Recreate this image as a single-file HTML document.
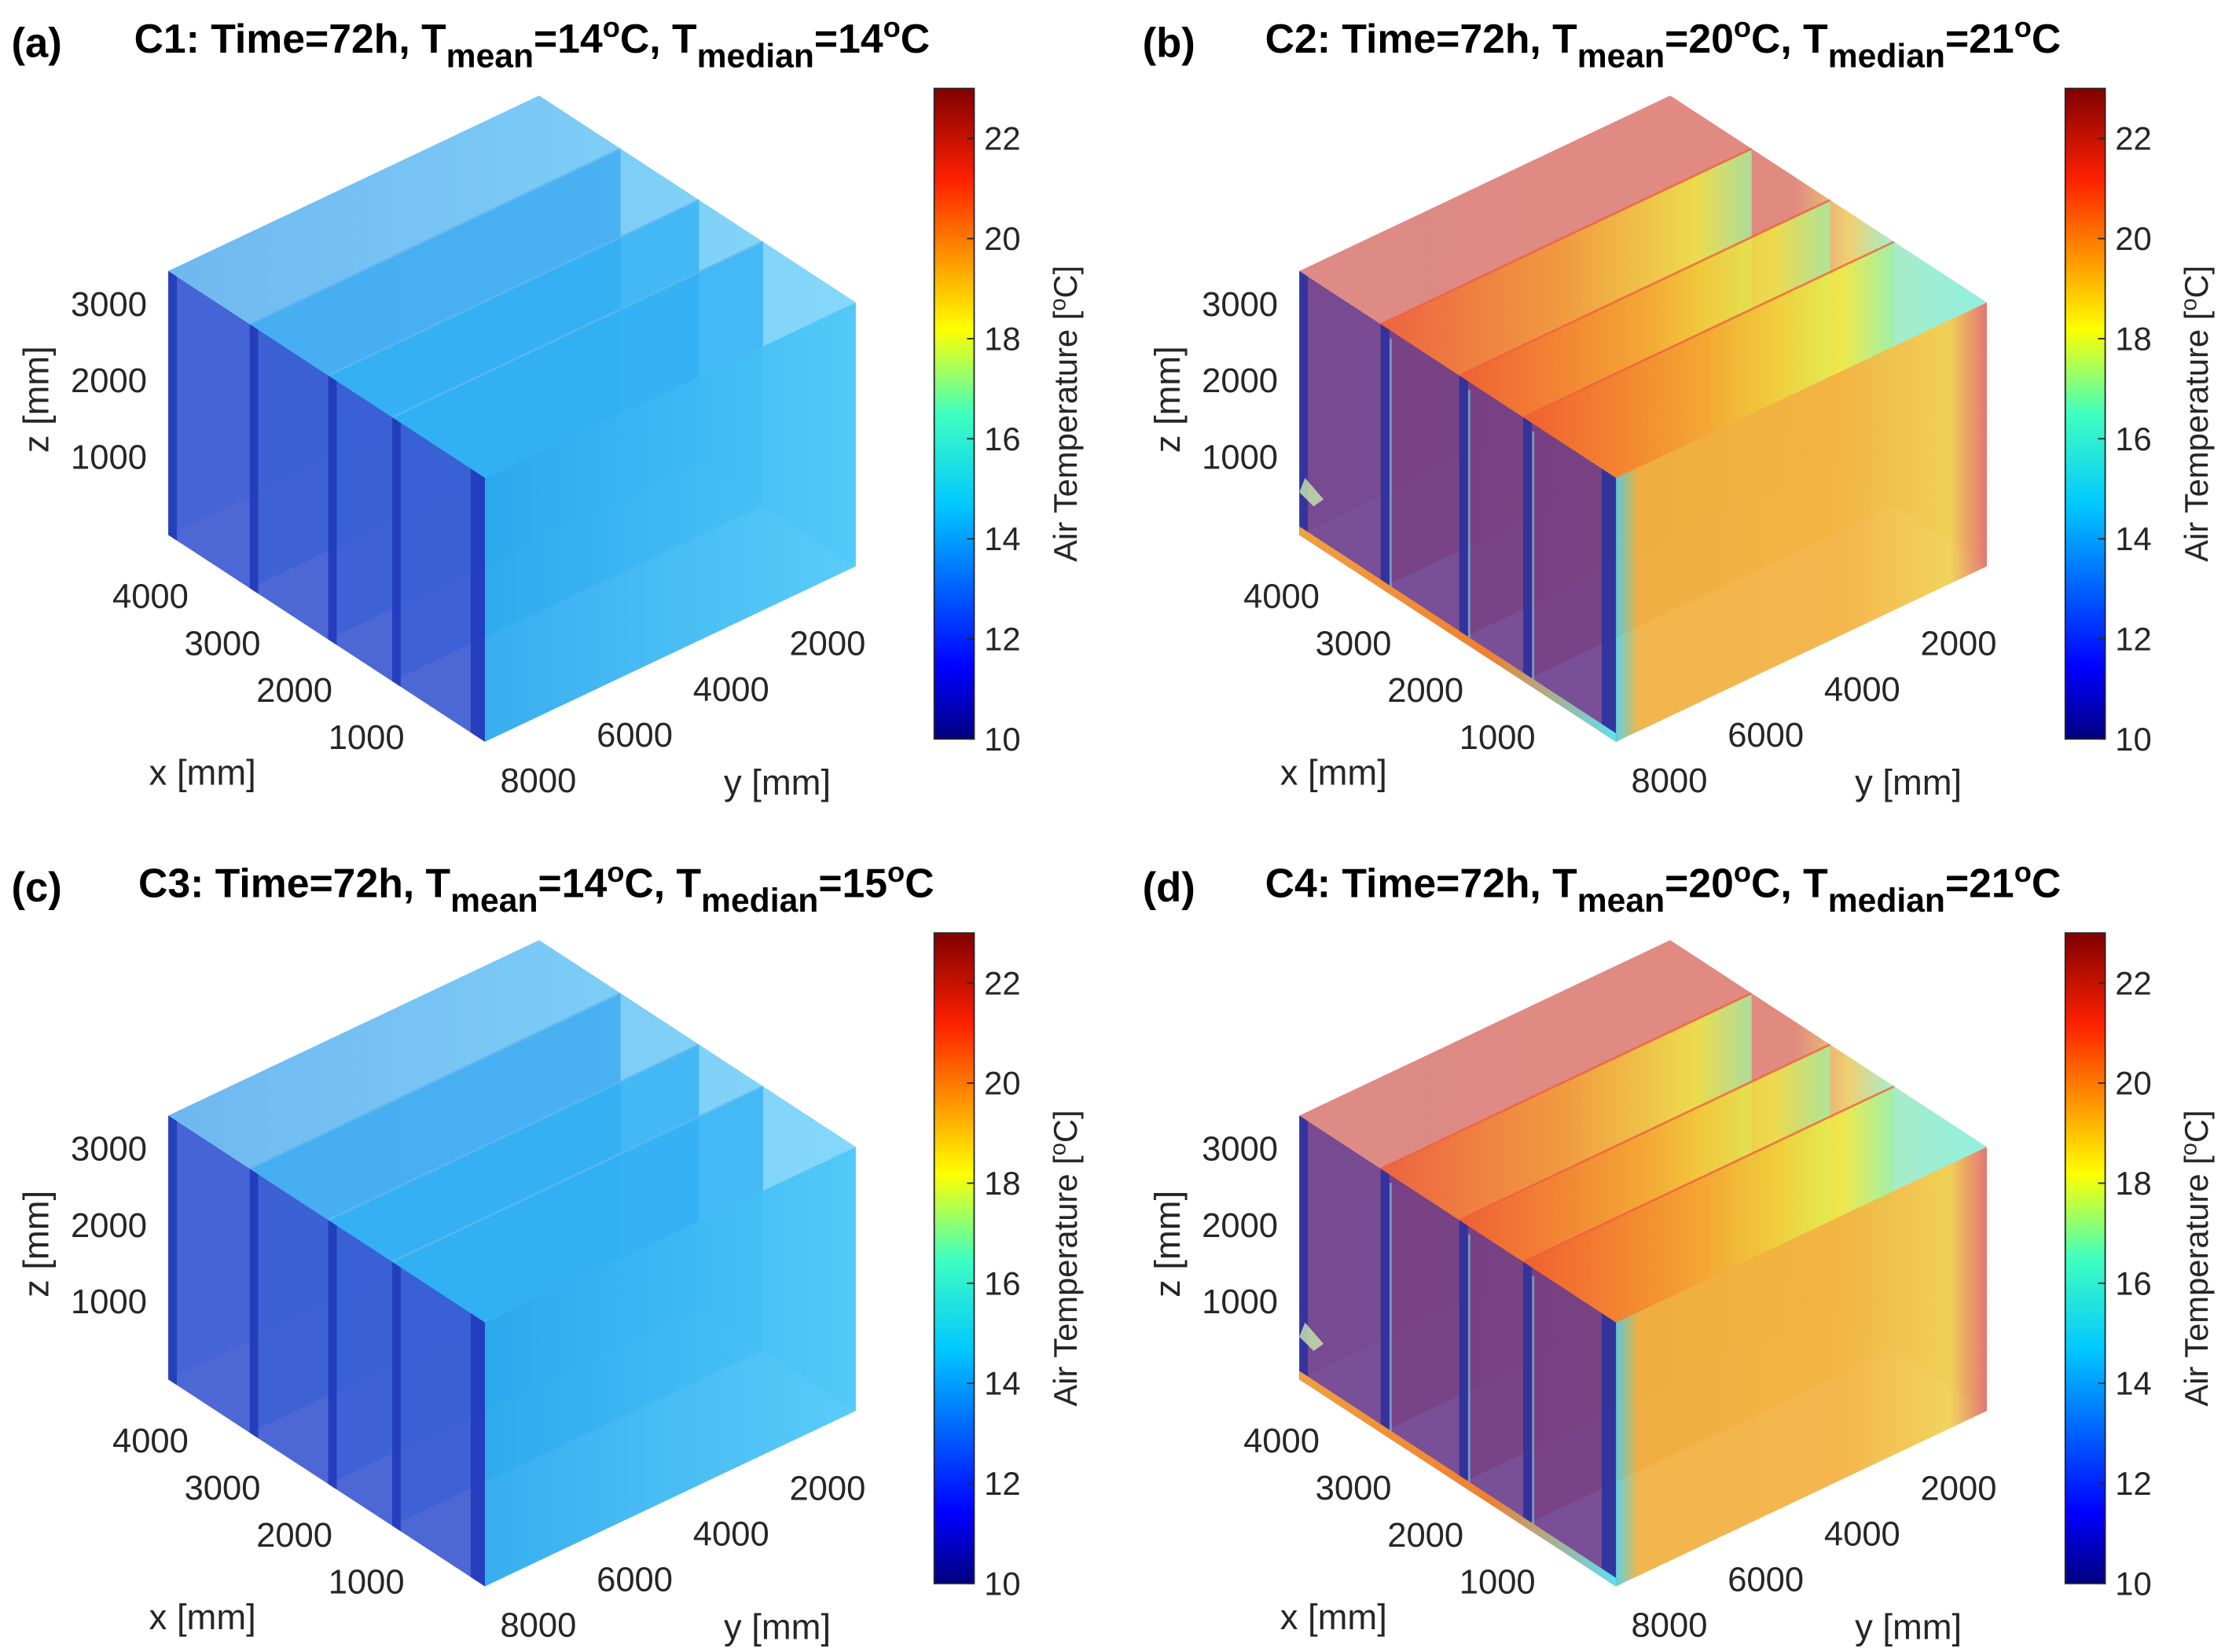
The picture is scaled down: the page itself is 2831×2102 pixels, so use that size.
<!DOCTYPE html>
<html><head><meta charset="utf-8"><style>
html,body{margin:0;padding:0;background:#fff}
svg{display:block}
text{font-family:"Liberation Sans",sans-serif}
</style></head><body>
<svg id="fig" xmlns="http://www.w3.org/2000/svg" width="2831" height="2102" viewBox="0 0 1560 1158" preserveAspectRatio="none">
<defs>
<linearGradient id="jet" x1="0" y1="1" x2="0" y2="0">
<stop offset="0" stop-color="#00007f"/><stop offset="0.11" stop-color="#0000ff"/><stop offset="0.36" stop-color="#00c8ff"/><stop offset="0.5" stop-color="#40ffc0"/><stop offset="0.63" stop-color="#ffff00"/><stop offset="0.86" stop-color="#ff2000"/><stop offset="1" stop-color="#800000"/>
</linearGradient>
<linearGradient id="coolTop" x1="0" y1="0" x2="1" y2="0"><stop offset="0" stop-color="#6fb8f0"/><stop offset="1" stop-color="#85d8fa"/></linearGradient>
<linearGradient id="coolRight" x1="0" y1="0" x2="1" y2="0"><stop offset="0" stop-color="#2aa8ee"/><stop offset="1" stop-color="#4cc8f8"/></linearGradient>
<linearGradient id="warmTop" x1="0" y1="0" x2="1" y2="0"><stop offset="0" stop-color="#de8a86"/><stop offset="0.72" stop-color="#e08a80"/><stop offset="0.8" stop-color="#f0d070"/><stop offset="0.86" stop-color="#a8ecc8"/><stop offset="1" stop-color="#90f0e0"/></linearGradient>
<linearGradient id="warmPart" x1="0" y1="0" x2="1" y2="0"><stop offset="0" stop-color="#f05a30"/><stop offset="0.5" stop-color="#f5a030"/><stop offset="0.85" stop-color="#f0f040"/><stop offset="1" stop-color="#a0f0a0"/></linearGradient>
<linearGradient id="warmRight" x1="0" y1="0" x2="1" y2="0"><stop offset="0" stop-color="#50d0e0"/><stop offset="0.06" stop-color="#f0b040"/><stop offset="0.6" stop-color="#f4b040"/><stop offset="0.9" stop-color="#f0d050"/><stop offset="1" stop-color="#e07070"/></linearGradient>
<linearGradient id="edgeStripe" x1="0" y1="0" x2="1" y2="0"><stop offset="0" stop-color="#f0a040"/><stop offset="0.6" stop-color="#f08030"/><stop offset="1" stop-color="#60e0f0"/></linearGradient>
</defs>
<g id="panels"></g>
</svg>
<script>
// colorbar data
const cbTicks = [10, 12, 14, 16, 18, 20, 22];
const cbMin = 10;
const cbMax = 23;
// axis tick labels
const zTicks = [1000, 2000, 3000];
const xTicks = [1000, 2000, 3000, 4000];
const yTicks = [2000, 4000, 6000, 8000];
// panel data
const panelLetters = ['(a)', '(b)', '(c)', '(d)'];
const panelCases = ['C1', 'C2', 'C3', 'C4'];
const panelMeans = [14, 20, 14, 20];
const panelMedians = [14, 21, 15, 21];
const panelWarm = [false, true, false, true];

const NS = 'http://www.w3.org/2000/svg';
const root = document.getElementById('panels');
function mk(tag, attrs, parent, txt) {
  const e = document.createElementNS(NS, tag);
  for (const k in attrs) e.setAttribute(k, attrs[k]);
  if (txt !== undefined) e.textContent = txt;
  parent.appendChild(e);
  return e;
}
function pts(a) { return a.map(p => p[0].toFixed(1) + ',' + p[1].toFixed(1)).join(' '); }
const add = (p, v, s = 1) => [p[0] + v[0] * s, p[1] + v[1] * s];

const offs = [[0, 0], [793, 0], [0, 592], [793, 592]];
for (let i = 0; i < 4; i++) {
  const [ox, oy] = offs[i];
  const warm = panelWarm[i];
  const g = mk('g', { transform: `translate(${ox},${oy})` }, root);
  
  

  // title
  const lt = mk('text', { x: 8, y: 40, 'font-size': 29, 'font-weight': 'bold' }, g, panelLetters[i]);
  
  
  const t = mk('text', { x: i === 2 ? 97 : 94, y: 37, 'font-size': 28.5, 'font-weight': 'bold' }, g);
  
  
  mk('tspan', {}, t, panelCases[i] + ': Time=72h, T');
  mk('tspan', { dy: 10, 'font-size': 23.5 }, t, 'mean');
  mk('tspan', { dy: -10 }, t, '=' + panelMeans[i] + '');
  mk('tspan', { dy: -11, 'font-size': 20 }, t, 'o');
  mk('tspan', { dy: 11 }, t, 'C, T');
  mk('tspan', { dy: 10, 'font-size': 23.5 }, t, 'median');
  mk('tspan', { dy: -10 }, t, '=' + panelMedians[i]);
  mk('tspan', { dy: -11, 'font-size': 20 }, t, 'o');
  mk('tspan', { dy: 11 }, t, 'C');

  // box geometry
  const F = [340, 335], L = [-222, -145], R = [260, -123], D = [0, 185];
  const Lc = add(F, L), Rc = add(F, R), Tc = add(Lc, R);
  const box = mk('g', {}, g);
  
  
  mk('polygon', { points: pts([Lc, Tc, add(Tc, D), add(Lc, D)]), fill: warm ? '#e49080' : '#60b0f0', opacity: 0.5 }, box);
  mk('polygon', { points: pts([Tc, Rc, add(Rc, D), add(Tc, D)]), fill: warm ? '#f0a060' : '#50b8f0', opacity: 0.5 }, box);
  mk('polygon', { points: pts([Lc, Tc, Rc, F]), fill: warm ? 'url(#warmTop)' : 'url(#coolTop)' }, box);
  const ps = [0.257, 0.505, 0.707];
  ps.forEach((f, k) => {
    const P = add(Lc, [-L[0], -L[1]], f);
    const part = mk('polygon', { points: pts([P, add(P, R), add(add(P, R), D), add(P, D)]),
      fill: warm ? 'url(#warmPart)' : (k === 0 ? '#38a8f0' : '#30b0f4'), opacity: warm ? 0.8 : 0.75 }, box);
    
    
    mk('line', { x1: P[0], y1: P[1], x2: P[0] + R[0], y2: P[1] + R[1], stroke: warm ? '#f06040' : '#60b8f0', 'stroke-width': 1.5, opacity: 0.8 }, box);
  });
  mk('polygon', { points: pts([F, Rc, add(Rc, D), add(F, D)]), fill: warm ? 'url(#warmRight)' : 'url(#coolRight)', opacity: 0.93 }, box);
  mk('polygon', { points: pts([Lc, F, add(F, D), add(Lc, D)]), fill: warm ? '#6a3c8c' : '#3a58d0', opacity: 0.9 }, box);
  [0, ...ps, 1].forEach(f => {
    const P = add(Lc, [-L[0], -L[1]], f);
    mk('rect', { x: P[0] - (f === 1 ? 10 : 0), y: P[1], width: f === 1 ? 10 : 6, height: D[1], fill: warm ? '#2830a0' : '#2038b8', opacity: 0.85,
      transform: `skewY(${(Math.atan(L[1] / L[0]) * 180 / Math.PI).toFixed(2)})`,
      'transform-origin': `${P[0]} ${P[1]}` }, box);
    if (warm && f > 0 && f < 1) mk('line', { x1: P[0] + 7, y1: P[1] + 10, x2: P[0] + 7, y2: P[1] + D[1], stroke: '#70c0e0', 'stroke-width': 1.5, opacity: 0.7 }, box);
  });
  if (warm) {
    const B1 = add(Lc, D), B2 = add(F, D);
    mk('polygon', { points: pts([B1, B2, add(B2, [0, -6]), add(B1, [0, -6])]), fill: 'url(#edgeStripe)' }, box);
    mk('polygon', { points: pts([[122, 335], [135, 350], [128, 355], [118, 345]]), fill: '#c8e8b0', opacity: 0.8 }, box);
  }

  // z axis ticks
  zTicks.forEach(v => {
    const yy = 365 - (v / 1000) * 53.5 + 17;
    const tx = mk('text', { x: 103, y: yy, 'font-size': 24, 'text-anchor': 'end', fill: '#262626' }, g, String(v));
    
    
  });
  const zl = mk('text', { x: 0, y: 0, 'font-size': 25, 'text-anchor': 'middle', fill: '#262626', transform: 'translate(34,280) rotate(-90)' }, g, 'z [mm]');
  
  
  // x axis ticks
  xTicks.forEach(v => {
    const f = v / 4400;
    const P = add(add(F, D), L, f);
    const tx = mk('text', { x: P[0] - 6, y: P[1] + 38, 'font-size': 24, 'text-anchor': 'end', fill: '#262626' }, g, String(v));
    
    
  });
  const xl = mk('text', { x: 142, y: 550, 'font-size': 25, 'text-anchor': 'middle', fill: '#262626' }, g, 'x [mm]');
  
  
  // y axis ticks
  yTicks.forEach(v => {
    const f = (8000 - v) / 8000 * 1.04 - 0.01;
    const P = add(add(F, D), R, f);
    const tx = mk('text', { x: P[0] + 40, y: P[1] + 34, 'font-size': 24, 'text-anchor': 'middle', fill: '#262626' }, g, String(v));
    
    
  });
  const yl = mk('text', { x: 545, y: 557, 'font-size': 25, 'text-anchor': 'middle', fill: '#262626' }, g, 'y [mm]');
  
  

  // colorbar
  const cbX = 655, cbW = 28, cbTop = 62, cbBot = 518;
  const cy = v => cbBot - (v - cbMin) / (cbMax - cbMin) * (cbBot - cbTop);
  const cb = mk('rect', { x: cbX, y: cbTop, width: cbW, height: cbBot - cbTop, fill: 'url(#jet)', stroke: '#262626', 'stroke-width': 1 }, g);
  
  
  cbTicks.forEach(v => {
    mk('line', { x1: cbX + cbW - 5, x2: cbX + cbW, y1: cy(v), y2: cy(v), stroke: '#262626', 'stroke-width': 1 }, g);
    const tx = mk('text', { x: cbX + cbW + 7, y: cy(v) + 8, 'font-size': 23, fill: '#262626' }, g, String(v));
    
    
  });
  const cl = mk('text', { x: 0, y: 0, 'font-size': 23, 'text-anchor': 'middle', fill: '#262626', transform: 'translate(755,290) rotate(-90)' }, g);
  
  
  mk('tspan', {}, cl, 'Air Temperature [');
  mk('tspan', { dy: -8, 'font-size': 16 }, cl, 'o');
  mk('tspan', { dy: 8 }, cl, 'C]');
}
</script>
</body></html>
